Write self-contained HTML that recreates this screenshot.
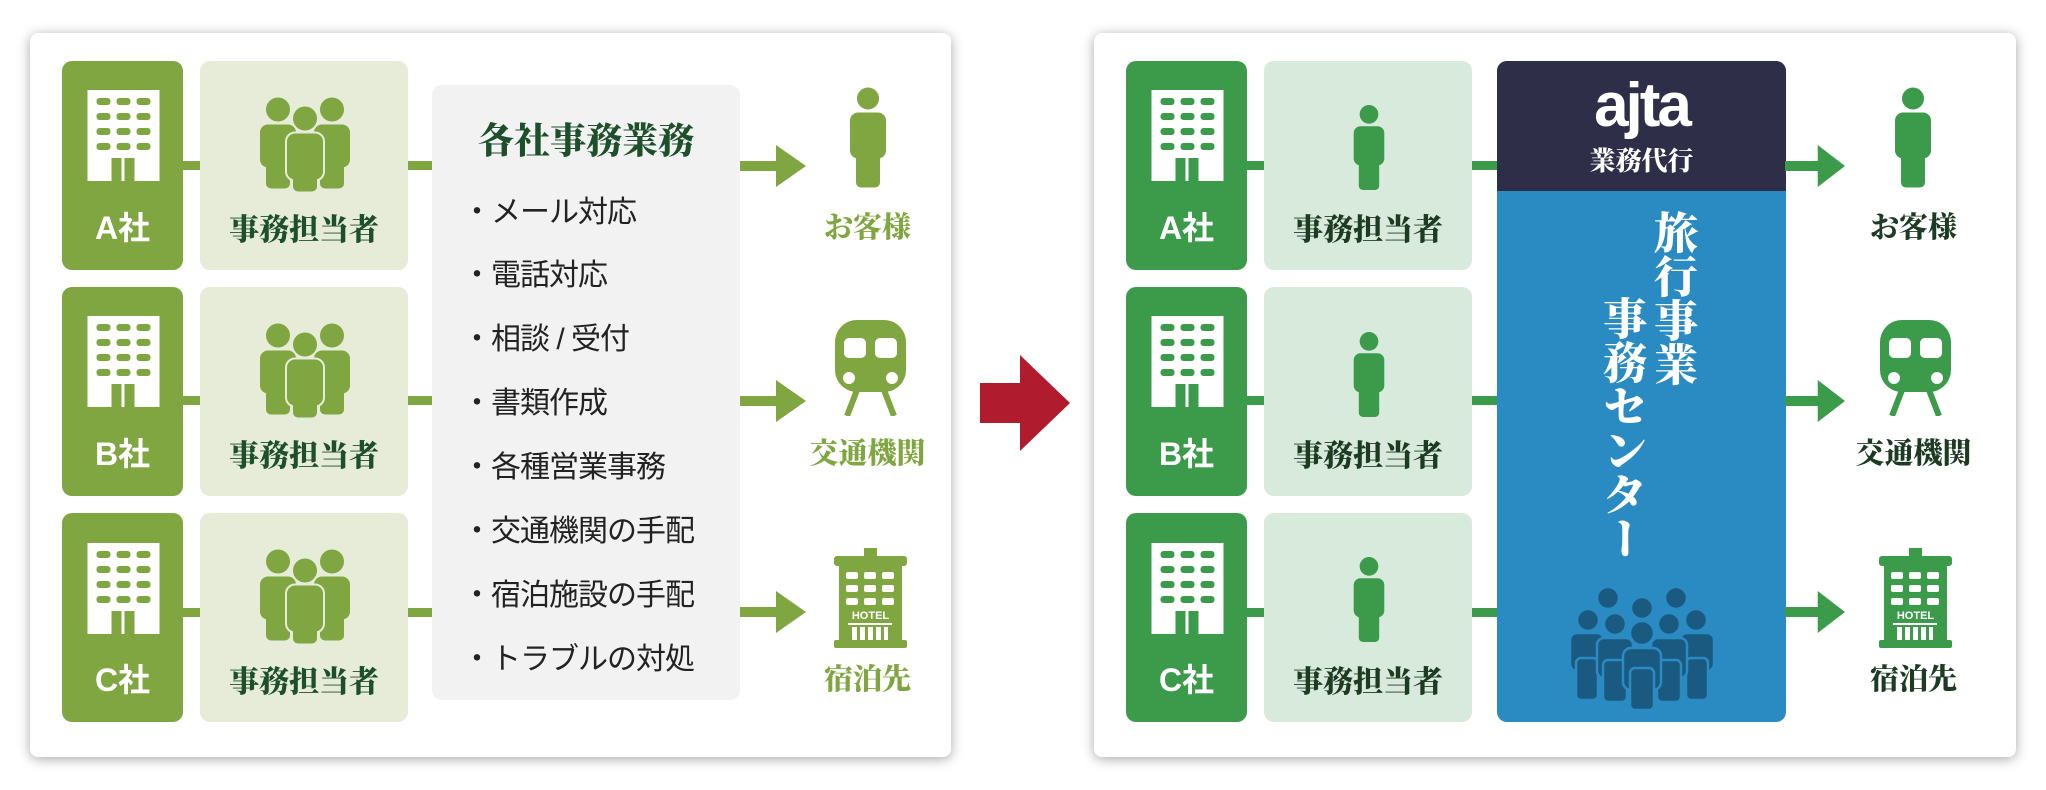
<!DOCTYPE html>
<html><head><meta charset="utf-8">
<style>
*{margin:0;padding:0;box-sizing:border-box}
body{width:2046px;height:790px;background:#fff;position:relative;overflow:hidden;font-family:"Liberation Sans","Noto Sans CJK JP",sans-serif}
.a{position:absolute}
.panel{position:absolute;background:#fff;border-radius:8px;box-shadow:0 2px 12px rgba(0,0,0,.35)}
.co{position:absolute;border-radius:10px}
.st{position:absolute;border-radius:10px}
.serif{font-family:"Liberation Serif","Noto Serif CJK JP","Noto Serif CJK SC",serif;font-weight:900}
.bar{position:absolute;height:9px}
.li{position:absolute;left:462px;font-size:30px;color:#222;font-family:"Liberation Sans","Noto Sans CJK JP",sans-serif;letter-spacing:-1px}
</style></head><body>
<svg width="0" height="0" style="position:absolute">
<defs>
<symbol id="bld" viewBox="0 0 72 91">
<rect x="0" y="0" width="72" height="91" fill="#fff"/>
<g fill="currentColor">
<rect x="9" y="8" width="14" height="7" rx="3"/><rect x="29" y="8" width="14" height="7" rx="3"/><rect x="49" y="8" width="14" height="7" rx="3"/>
<rect x="9" y="23" width="14" height="7" rx="3"/><rect x="29" y="23" width="14" height="7" rx="3"/><rect x="49" y="23" width="14" height="7" rx="3"/>
<rect x="9" y="38" width="14" height="7" rx="3"/><rect x="29" y="38" width="14" height="7" rx="3"/><rect x="49" y="38" width="14" height="7" rx="3"/>
<rect x="9" y="53" width="14" height="7" rx="3"/><rect x="29" y="53" width="14" height="7" rx="3"/><rect x="49" y="53" width="14" height="7" rx="3"/>
<rect x="24" y="68" width="10" height="23"/><rect x="37" y="68" width="10" height="23"/>
</g></symbol>
<symbol id="per" viewBox="0 0 40 100">
<circle cx="20" cy="11" r="11"/>
<rect x="2" y="25" width="36" height="46" rx="8"/>
<rect x="8" y="55" width="24" height="45" rx="5"/>
</symbol>
<symbol id="grp" viewBox="0 0 90 95">
<circle cx="18" cy="13" r="12"/><rect x="0" y="28" width="36" height="43" rx="8"/><rect x="6" y="50" width="24" height="42" rx="5"/>
<circle cx="72" cy="13" r="12"/><rect x="54" y="28" width="36" height="43" rx="8"/><rect x="60" y="50" width="24" height="42" rx="5"/>
<g style="stroke:var(--bg)" stroke-width="4">
<circle cx="45" cy="22" r="12"/><rect x="27" y="37" width="36" height="46" rx="8"/><rect x="33" y="55" width="24" height="40" rx="5"/>
</g>
<circle cx="45" cy="22" r="12"/><rect x="27" y="37" width="36" height="46" rx="8"/><rect x="33" y="55" width="24" height="40" rx="5"/>
</symbol>
<symbol id="train" viewBox="0 0 71 96">
<rect x="0" y="0" width="71" height="72" rx="22"/>
<rect x="9" y="18" width="22" height="20" rx="5" fill="#fff"/><rect x="40" y="18" width="22" height="20" rx="5" fill="#fff"/>
<circle cx="14" cy="58" r="6" fill="#fff"/><circle cx="57" cy="58" r="6" fill="#fff"/>
<path d="M22 70 L12 96 M49 70 L59 96" stroke="currentColor" stroke-width="6"/>
</symbol>
<symbol id="hotel" viewBox="0 0 73 100">
<rect x="30" y="0" width="13" height="8"/>
<rect x="0" y="8" width="73" height="10" rx="3"/>
<rect x="5" y="14" width="63" height="80"/>
<rect x="0" y="92" width="73" height="8" rx="2"/>
<g fill="#fff">
<rect x="12" y="24" width="12" height="7" rx="2"/><rect x="30" y="24" width="12" height="7" rx="2"/><rect x="48" y="24" width="12" height="7" rx="2"/>
<rect x="12" y="37" width="12" height="7" rx="2"/><rect x="30" y="37" width="12" height="7" rx="2"/><rect x="48" y="37" width="12" height="7" rx="2"/>
<rect x="12" y="50" width="12" height="7" rx="2"/><rect x="30" y="50" width="12" height="7" rx="2"/><rect x="48" y="50" width="12" height="7" rx="2"/>
<rect x="14" y="75" width="44" height="2"/>
<rect x="18" y="79" width="5" height="13"/><rect x="26" y="79" width="5" height="13"/><rect x="34" y="79" width="5" height="13"/><rect x="42" y="79" width="5" height="13"/><rect x="50" y="79" width="4" height="13"/>
</g>
<text x="36.5" y="71" text-anchor="middle" font-family="Liberation Sans" font-weight="bold" font-size="11" fill="#fff">HOTEL</text>
</symbol>
<symbol id="arr" viewBox="0 0 66 42">
<rect x="0" y="16" width="38" height="10"/><polygon points="36,0 66,21 36,42"/>
</symbol>
</defs></svg>

<!-- LEFT PANEL -->
<div class="panel" style="left:30px;top:33px;width:921px;height:724px"></div>
<div class="co" style="left:62px;top:61px;width:121px;height:209px;background:#7fa640"></div>
<div class="co" style="left:62px;top:287px;width:121px;height:209px;background:#7fa640"></div>
<div class="co" style="left:62px;top:513px;width:121px;height:209px;background:#7fa640"></div>
<svg class="a" style="left:87px;top:90px;color:#7fa640" width="73" height="91"><use href="#bld"/></svg>
<svg class="a" style="left:87px;top:316px;color:#7fa640" width="73" height="91"><use href="#bld"/></svg>
<svg class="a" style="left:87px;top:543px;color:#7fa640" width="73" height="91"><use href="#bld"/></svg>
<div class="a" style="left:62px;top:203px;width:121px;text-align:center;color:#fff;font-size:32px;font-weight:bold">A社</div>
<div class="a" style="left:62px;top:429px;width:121px;text-align:center;color:#fff;font-size:32px;font-weight:bold">B社</div>
<div class="a" style="left:62px;top:655px;width:121px;text-align:center;color:#fff;font-size:32px;font-weight:bold">C社</div>
<div class="bar" style="left:183px;top:161px;width:17px;background:#7fa640"></div>
<div class="bar" style="left:183px;top:396px;width:17px;background:#7fa640"></div>
<div class="bar" style="left:183px;top:608px;width:17px;background:#7fa640"></div>
<div class="st" style="left:200px;top:61px;width:208px;height:209px;background:#e6ecd8"></div>
<div class="st" style="left:200px;top:287px;width:208px;height:209px;background:#e6ecd8"></div>
<div class="st" style="left:200px;top:513px;width:208px;height:209px;background:#e6ecd8"></div>
<svg class="a" style="left:260px;top:96px;fill:#7fa640;--bg:#e6ecd8" width="90" height="96"><use href="#grp"/></svg>
<svg class="a" style="left:260px;top:322px;fill:#7fa640;--bg:#e6ecd8" width="90" height="96"><use href="#grp"/></svg>
<svg class="a" style="left:260px;top:548px;fill:#7fa640;--bg:#e6ecd8" width="90" height="96"><use href="#grp"/></svg>
<div class="a serif" style="left:200px;top:205px;width:208px;text-align:center;color:#1d4f2b;font-size:30px">事務担当者</div>
<div class="a serif" style="left:200px;top:431px;width:208px;text-align:center;color:#1d4f2b;font-size:30px">事務担当者</div>
<div class="a serif" style="left:200px;top:657px;width:208px;text-align:center;color:#1d4f2b;font-size:30px">事務担当者</div>
<div class="bar" style="left:408px;top:161px;width:24px;background:#7fa640"></div>
<div class="bar" style="left:408px;top:396px;width:24px;background:#7fa640"></div>
<div class="bar" style="left:408px;top:608px;width:24px;background:#7fa640"></div>
<div class="a" style="left:432px;top:85px;width:308px;height:615px;background:#f2f2f2;border-radius:10px"></div>
<div class="a serif" style="left:432px;top:113px;width:308px;text-align:center;color:#1d4f2b;font-size:36px">各社事務業務</div>
<div class="li" style="top:187px">・メール対応</div>
<div class="li" style="top:250px">・電話対応</div>
<div class="li" style="top:314px">・相談 / 受付</div>
<div class="li" style="top:378px">・書類作成</div>
<div class="li" style="top:442px">・各種営業事務</div>
<div class="li" style="top:506px">・交通機関の手配</div>
<div class="li" style="top:570px">・宿泊施設の手配</div>
<div class="li" style="top:634px">・トラブルの対処</div>
<svg class="a" style="left:740px;top:145px;fill:#7fa640" width="66" height="42"><use href="#arr"/></svg>
<svg class="a" style="left:740px;top:380px;fill:#7fa640" width="66" height="42"><use href="#arr"/></svg>
<svg class="a" style="left:740px;top:591px;fill:#7fa640" width="66" height="42"><use href="#arr"/></svg>
<svg class="a" style="left:848px;top:86px;fill:#7fa640" width="40" height="103"><use href="#per"/></svg>
<svg class="a" style="left:835px;top:320px;fill:#7fa640;color:#7fa640" width="71" height="96"><use href="#train"/></svg>
<svg class="a" style="left:834px;top:548px;fill:#7fa640" width="73" height="100"><use href="#hotel"/></svg>
<div class="a serif" style="left:800px;top:205px;width:135px;text-align:center;color:#7fa640;font-size:29px">お客様</div>
<div class="a serif" style="left:800px;top:431px;width:135px;text-align:center;color:#7fa640;font-size:29px">交通機関</div>
<div class="a serif" style="left:800px;top:657px;width:135px;text-align:center;color:#7fa640;font-size:29px">宿泊先</div>

<svg class="a" style="left:980px;top:355px" width="92" height="96"><polygon points="0,28 40,28 40,0 90,48 40,96 40,68 0,68" fill="#b01c2e"/></svg>

<!-- RIGHT PANEL -->
<div class="panel" style="left:1094px;top:33px;width:922px;height:724px"></div>
<div class="co" style="left:1126px;top:61px;width:121px;height:209px;background:#3b9b4b"></div>
<div class="co" style="left:1126px;top:287px;width:121px;height:209px;background:#3b9b4b"></div>
<div class="co" style="left:1126px;top:513px;width:121px;height:209px;background:#3b9b4b"></div>
<svg class="a" style="left:1151px;top:90px;color:#3b9b4b" width="73" height="91"><use href="#bld"/></svg>
<svg class="a" style="left:1151px;top:316px;color:#3b9b4b" width="73" height="91"><use href="#bld"/></svg>
<svg class="a" style="left:1151px;top:543px;color:#3b9b4b" width="73" height="91"><use href="#bld"/></svg>
<div class="a" style="left:1126px;top:203px;width:121px;text-align:center;color:#fff;font-size:32px;font-weight:bold">A社</div>
<div class="a" style="left:1126px;top:429px;width:121px;text-align:center;color:#fff;font-size:32px;font-weight:bold">B社</div>
<div class="a" style="left:1126px;top:655px;width:121px;text-align:center;color:#fff;font-size:32px;font-weight:bold">C社</div>
<div class="bar" style="left:1247px;top:161px;width:17px;background:#3b9b4b"></div>
<div class="bar" style="left:1247px;top:396px;width:17px;background:#3b9b4b"></div>
<div class="bar" style="left:1247px;top:608px;width:17px;background:#3b9b4b"></div>
<div class="st" style="left:1264px;top:61px;width:208px;height:209px;background:#d8eadb"></div>
<div class="st" style="left:1264px;top:287px;width:208px;height:209px;background:#d8eadb"></div>
<div class="st" style="left:1264px;top:513px;width:208px;height:209px;background:#d8eadb"></div>
<svg class="a" style="left:1352px;top:103px;fill:#3b9b4b" width="34" height="89"><use href="#per"/></svg>
<svg class="a" style="left:1352px;top:330px;fill:#3b9b4b" width="34" height="89"><use href="#per"/></svg>
<svg class="a" style="left:1352px;top:555px;fill:#3b9b4b" width="34" height="89"><use href="#per"/></svg>
<div class="a serif" style="left:1264px;top:205px;width:208px;text-align:center;color:#1d3b23;font-size:30px">事務担当者</div>
<div class="a serif" style="left:1264px;top:431px;width:208px;text-align:center;color:#1d3b23;font-size:30px">事務担当者</div>
<div class="a serif" style="left:1264px;top:657px;width:208px;text-align:center;color:#1d3b23;font-size:30px">事務担当者</div>
<div class="bar" style="left:1472px;top:161px;width:26px;background:#3b9b4b"></div>
<div class="bar" style="left:1472px;top:396px;width:26px;background:#3b9b4b"></div>
<div class="bar" style="left:1472px;top:608px;width:26px;background:#3b9b4b"></div>
<div class="a" style="left:1497px;top:61px;width:289px;height:661px;background:#2a8bc3;border-radius:10px;overflow:hidden">
 <div style="height:130px;background:#2e2e48"></div>
</div>
<div class="a" style="left:1497px;top:66px;width:289px;text-align:center;color:#fff;font-size:62px;font-weight:bold;letter-spacing:-3px;line-height:80px">ajta</div>
<div class="a serif" style="left:1497px;top:141px;width:289px;text-align:center;color:#fff;font-size:26px">業務代行</div>
<div class="a serif" style="left:1648px;top:210px;writing-mode:vertical-rl;color:#fff;font-size:44px;line-height:46px">旅行事業</div>
<div class="a serif" style="left:1597px;top:296px;writing-mode:vertical-rl;color:#fff;font-size:44px;line-height:46px">事務センター</div>
<svg class="a" style="left:1570px;top:588px" width="144" height="122" viewBox="0 0 144 122" fill="#1b5a80" stroke="#2a8bc3" stroke-width="2.5">
 <circle cx="38" cy="10" r="11"/><circle cx="106" cy="10" r="11"/>
 <circle cx="18" cy="32" r="11"/><rect x="0" y="45" width="34" height="38" rx="7"/><rect x="6" y="70" width="22" height="42" rx="5"/>
 <circle cx="126" cy="32" r="11"/><rect x="110" y="45" width="34" height="38" rx="7"/><rect x="116" y="70" width="22" height="42" rx="5"/>
 <circle cx="72" cy="20" r="11"/>
 <circle cx="45" cy="36" r="11"/><rect x="27" y="50" width="36" height="40" rx="7"/><rect x="33" y="72" width="24" height="42" rx="5"/>
 <circle cx="99" cy="36" r="11"/><rect x="81" y="50" width="36" height="40" rx="7"/><rect x="87" y="72" width="24" height="42" rx="5"/>
 <circle cx="72" cy="45" r="12"/><rect x="53" y="60" width="38" height="42" rx="8"/><rect x="60" y="80" width="24" height="42" rx="5"/>
</svg>
<svg class="a" style="left:1785px;top:145px;fill:#3b9b4b" width="60" height="42" viewBox="0 0 66 42" preserveAspectRatio="none"><use href="#arr"/></svg>
<svg class="a" style="left:1785px;top:380px;fill:#3b9b4b" width="60" height="42" viewBox="0 0 66 42" preserveAspectRatio="none"><use href="#arr"/></svg>
<svg class="a" style="left:1785px;top:591px;fill:#3b9b4b" width="60" height="42" viewBox="0 0 66 42" preserveAspectRatio="none"><use href="#arr"/></svg>
<svg class="a" style="left:1893px;top:86px;fill:#3b9b4b" width="40" height="103"><use href="#per"/></svg>
<svg class="a" style="left:1880px;top:320px;fill:#3b9b4b;color:#3b9b4b" width="71" height="96"><use href="#train"/></svg>
<svg class="a" style="left:1879px;top:548px;fill:#3b9b4b" width="73" height="100"><use href="#hotel"/></svg>
<div class="a serif" style="left:1846px;top:205px;width:135px;text-align:center;color:#1d3b23;font-size:29px">お客様</div>
<div class="a serif" style="left:1846px;top:431px;width:135px;text-align:center;color:#1d3b23;font-size:29px">交通機関</div>
<div class="a serif" style="left:1846px;top:657px;width:135px;text-align:center;color:#1d3b23;font-size:29px">宿泊先</div>
</body></html>
